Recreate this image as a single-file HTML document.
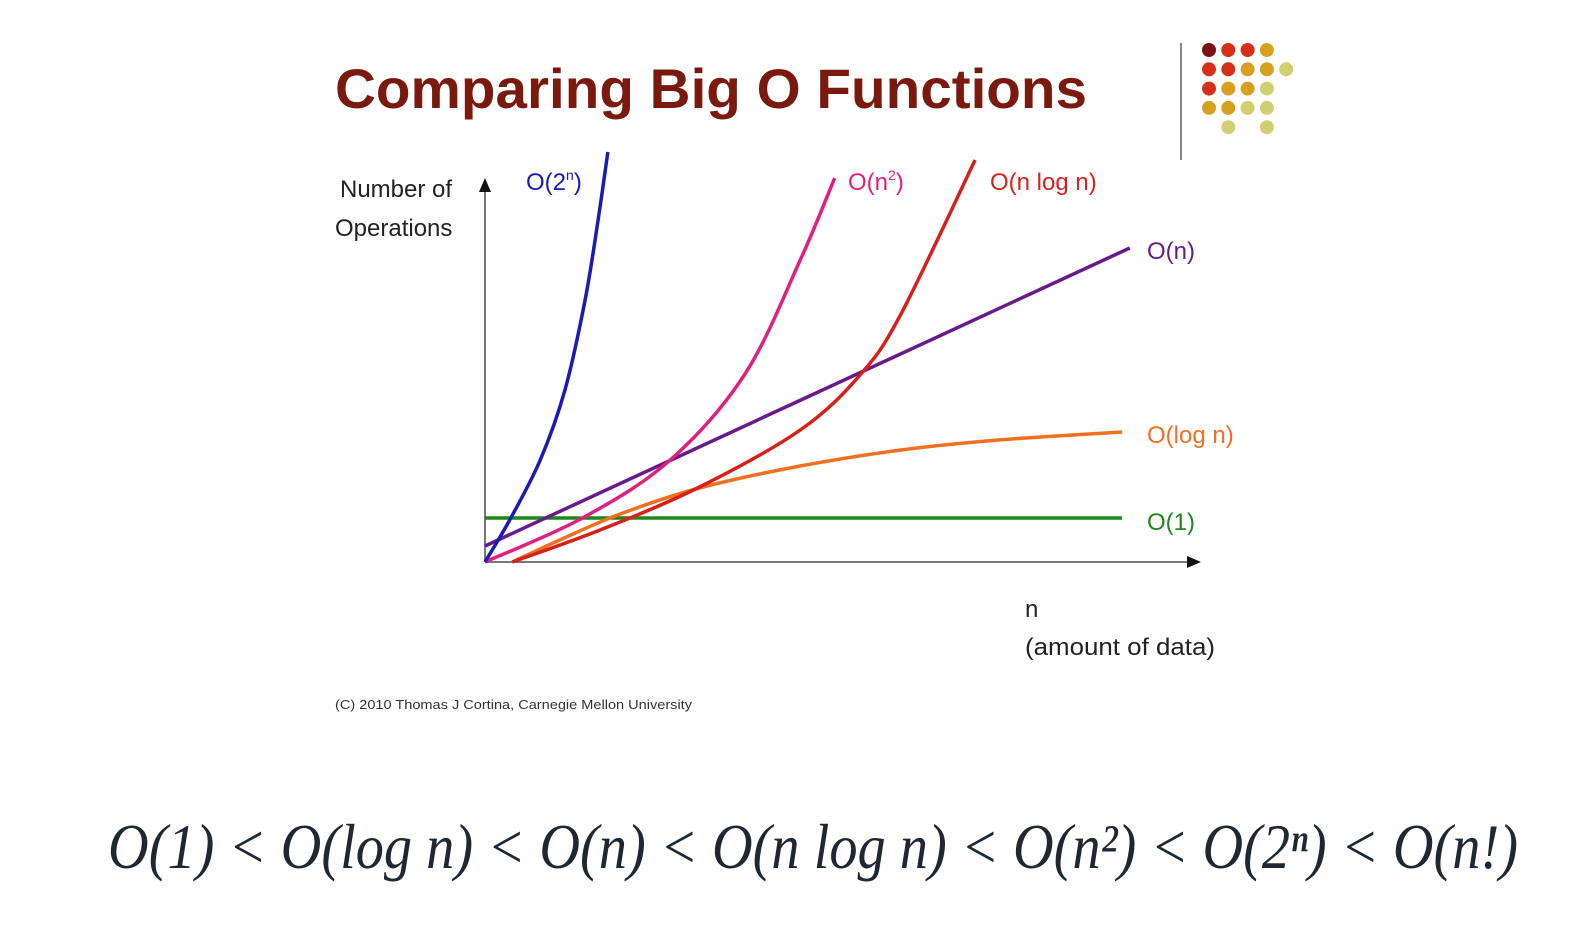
<!DOCTYPE html>
<html><head><meta charset="utf-8"><style>
html,body{margin:0;padding:0;background:#fff;}
svg{display:block;}
</style></head><body>
<svg width="1584" height="927" viewBox="0 0 1584 927" xmlns="http://www.w3.org/2000/svg">
<text x="335" y="108" font-family="Liberation Sans, sans-serif" font-weight="bold" font-size="56" fill="#7a1a0e" textLength="752" lengthAdjust="spacingAndGlyphs">Comparing Big O Functions</text>
<line x1="1181" y1="43" x2="1181" y2="160" stroke="#888" stroke-width="2"/>
<g id="dots"></g>
<line x1="485" y1="562" x2="485" y2="188" stroke="#777" stroke-width="2"/>
<polygon points="485,178 479,192 491,192" fill="#111"/>
<line x1="485" y1="562" x2="1190" y2="562" stroke="#777" stroke-width="2"/>
<polygon points="1201,562 1187,556 1187,568" fill="#111"/>
<text font-family="Liberation Sans, sans-serif" font-size="24" fill="#222"><tspan x="340" y="197">Number of</tspan><tspan x="335" y="236">Operations</tspan></text>
<text font-family="Liberation Sans, sans-serif" font-size="24" fill="#222"><tspan x="1025" y="617">n</tspan><tspan x="1025" y="655" textLength="190" lengthAdjust="spacingAndGlyphs">(amount of data)</tspan></text>
<text x="335" y="709" font-family="Liberation Sans, sans-serif" font-size="13" fill="#333" textLength="357" lengthAdjust="spacingAndGlyphs">(C) 2010 Thomas J Cortina, Carnegie Mellon University</text>
<g id="curves"></g>
<text x="108" y="868" font-family="Liberation Serif, serif" font-style="italic" font-size="64" fill="#1f2733" textLength="1410" lengthAdjust="spacingAndGlyphs">O(1) &lt; O(log n) &lt; O(n) &lt; O(n log n) &lt; O(n²) &lt; O(2ⁿ) &lt; O(n!)</text>
</svg>
<script>
const seriesNames=["O(1)","O(log n)","O(n)","O(n log n)","O(n²)","O(2ⁿ)"];
const seriesColors=["#1a8a1a","#f07020","#6a1a8a","#d8201a","#e02080","#1a1ab8"];
const o1Values=[[0,11],[98,11]];
const logValues=[[4.2,0],[11.5,5.5],[20.8,12],[33,18.5],[48.5,24],[64,28],[79,30.5],[98,32.5]];
const linValues=[[0,4],[99.2,78.5]];
const nlognValues=[[4.2,0],[17.7,8],[33,18.75],[48.5,33],[57.7,46.75],[64,62],[75.4,100.5]];
const sqValues=[[0,0],[15,11],[28.5,25.5],[40,47],[48.5,75.5],[53.8,96]];
const expValues=[[0,0],[3.8,10.5],[8.5,25.5],[12.3,43],[15.4,65.5],[17.4,85.5],[18.9,102.5]];
const seriesData=[o1Values,logValues,linValues,nlognValues,sqValues,expValues];
const NS="http://www.w3.org/2000/svg";
function xs(v){return 485+v*6.5;}
function ys(v){return 562-v*4;}
function pathFor(pts){
  const p=pts.map(d=>[xs(d[0]),ys(d[1])]);
  let s="M"+p[0][0]+","+p[0][1];
  for(let i=0;i<p.length-1;i++){
    const p0=p[i-1]||p[i],p1=p[i],p2=p[i+1],p3=p[i+2]||p2;
    const c1=[p1[0]+(p2[0]-p0[0])/6,p1[1]+(p2[1]-p0[1])/6];
    const c2=[p2[0]-(p3[0]-p1[0])/6,p2[1]-(p3[1]-p1[1])/6];
    s+=" C"+c1+" "+c2+" "+p2;
  }
  return s;
}
const g=document.getElementById("curves");
seriesData.forEach((d,i)=>{
  const el=document.createElementNS(NS,"path");
  el.setAttribute("d",pathFor(d));
  el.setAttribute("fill","none");
  el.setAttribute("stroke",seriesColors[i]);
  el.setAttribute("stroke-width","3.5");
  
  
  g.appendChild(el);
});
const labels=[
 [1147,530,"O(1)",0],[1147,443,"O(log n)",1],[1147,259,"O(n)",2],[990,190,"O(n log n)",3],
 [848,190,"O(n<tspan font-size='14' dy='-10'>2</tspan><tspan dy='10'>)</tspan>",4],
 [526,190,"O(2<tspan font-size='14' dy='-10'>n</tspan><tspan dy='10'>)</tspan>",5]];
labels.forEach(l=>{
  const t=document.createElementNS(NS,"text");
  t.setAttribute("x",l[0]);t.setAttribute("y",l[1]);
  t.setAttribute("font-family","Liberation Sans, sans-serif");
  t.setAttribute("font-size","24");
  t.setAttribute("fill",seriesColors[l[3]]);
  t.innerHTML=l[2];
  
  
  g.appendChild(t);
});
const dotColors=[
 ["#7a1010","#d83018","#d83018","#d8a020",null],
 ["#d83018","#d83018","#d8a020","#d8a020","#d0d070"],
 ["#d83018","#d8a020","#d8a020","#d0d070",null],
 ["#d8a020","#d8a020","#d0d070","#d0d070",null],
 [null,"#d0d070",null,"#d0d070",null]];
const dg=document.getElementById("dots");
dotColors.forEach((row,r)=>row.forEach((c,k)=>{
  if(!c)return;
  const e=document.createElementNS(NS,"circle");
  e.setAttribute("cx",1209+k*19.3);e.setAttribute("cy",50+r*19.3);e.setAttribute("r",7);
  e.setAttribute("fill",c);
  
  
  dg.appendChild(e);
}));
</script>
</body></html>
